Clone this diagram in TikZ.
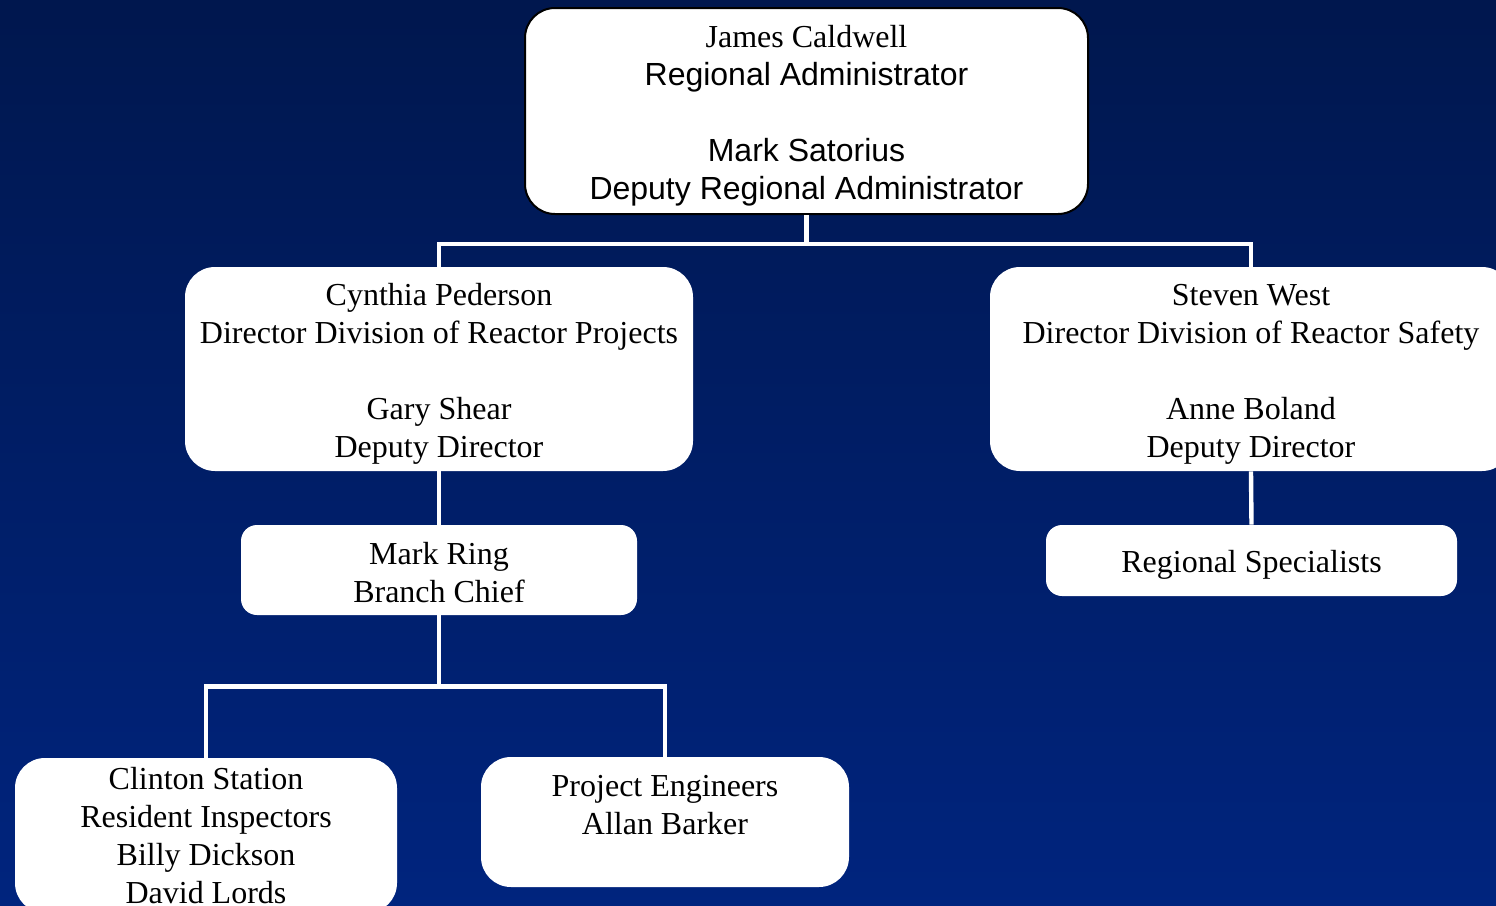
\documentclass[tikz,border=0pt]{standalone}
\usepackage{fontspec}
\setmainfont{Liberation Serif}
\newfontfamily\arialfont{Liberation Sans}
\definecolor{bgtop}{RGB}{0,23,78}
\definecolor{bgbot}{RGB}{0,36,126}
\newcommand{\lowstrut}[1]{\rule{0pt}{#1}}
\begin{document}
\begin{tikzpicture}[x=0.5pt,y=-0.5pt,
  orgbox/.style={fill=white, rounded corners=15pt, inner sep=0pt, align=center,
    font=\fontsize{16}{19}\selectfont, text=black},
  smallbox/.style={orgbox, rounded corners=8pt},
  conn/.style={draw=white, line width=2.2pt, line join=miter}]
\useasboundingbox (0,0) rectangle (1496,906);
\clip (0,0) rectangle (1496,906);
\shade[top color=bgtop, bottom color=bgbot] (0,0) rectangle (1496,906);

\node[orgbox, draw=black, line width=1pt, minimum width=281.5pt, minimum height=103pt] (ra) at (806.5,111)
  {\lowstrut{15.7pt}James Caldwell\\{\arialfont Regional Administrator}\\[19pt]{\arialfont Mark Satorius}\\{\arialfont Deputy Regional Administrator}};
\node[orgbox, minimum width=254pt, minimum height=102pt] (dl) at (439,369)
  {\lowstrut{15.7pt}Cynthia Pederson\\Director Division of Reactor Projects\\[19pt]Gary Shear\\Deputy Director};
\node[orgbox, minimum width=261pt, minimum height=102pt] (dr) at (1251,369)
  {\lowstrut{15.7pt}Steven West\\Director Division of Reactor Safety\\[19pt]Anne Boland\\Deputy Director};
\node[smallbox, minimum width=198pt, minimum height=45pt] (mr) at (439,570)
  {\lowstrut{13.7pt}Mark Ring\\Branch Chief};
\node[smallbox, minimum width=205.5pt, minimum height=35.5pt] (rs) at (1251.5,560.5)
  {\lowstrut{15.7pt}Regional Specialists};
\node[orgbox, minimum width=191pt, minimum height=77.5pt] (cs) at (206,835.5)
  {Clinton Station\\Resident Inspectors\\Billy Dickson\\David Lords};
\node[orgbox, minimum width=184pt, minimum height=65pt] (pe) at (665,822) {};
\node[align=center, inner sep=0pt, font=\fontsize{16}{19}\selectfont, text=black] (pet) at (665,805)
  {Project Engineers\\Allan Barker};

\draw[conn] (ra.south) -- ++(0,29) coordinate (j1);
\draw[conn] (dl.north) |- (j1) -| (dr.north);
\draw[conn] (dl.south) -- (mr.north);
\draw[conn] (dr.south) -- (rs.north);
\draw[conn] (mr.south) -- ++(0,71) coordinate (j2);
\draw[conn] (cs.north) |- (j2) -| (pe.north);
\end{tikzpicture}
\end{document}
